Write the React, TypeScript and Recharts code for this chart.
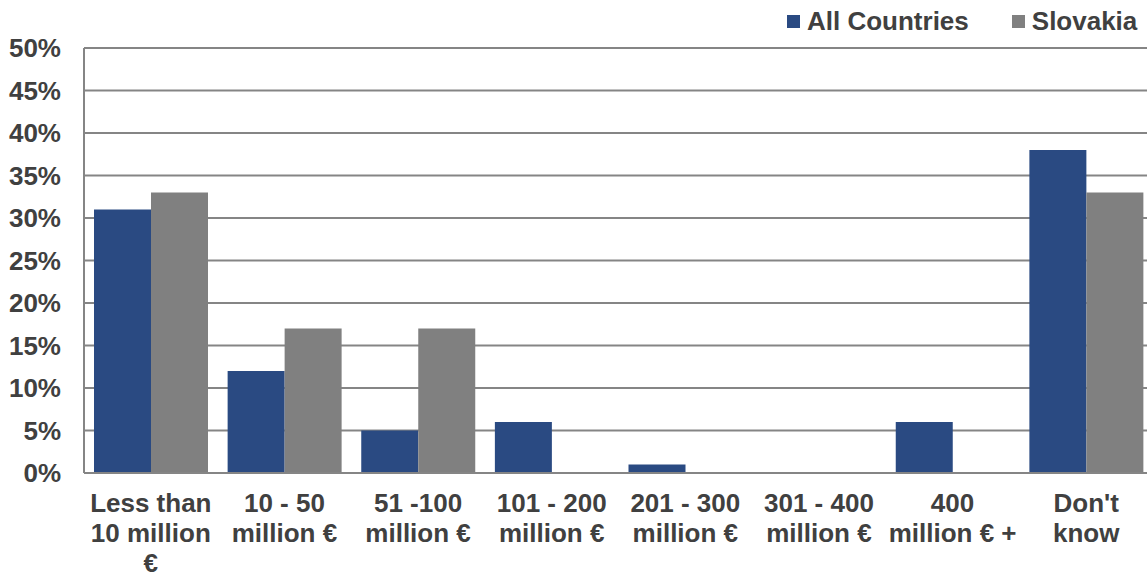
import React from "react";
import { Bar, BarChart, CartesianGrid, Legend, XAxis, YAxis } from "recharts";

const categories = [
  "Less than|10 million|€",
  "10 - 50|million €",
  "51 -100|million €",
  "101 - 200|million €",
  "201 - 300|million €",
  "301 - 400|million €",
  "400|million € +",
  "Don't|know",
];
const allCountries = [31, 12, 5, 6, 1, 0, 6, 38];
const slovakia = [33, 17, 17, 0, 0, 0, 0, 33];
const yTicks = [0, 5, 10, 15, 20, 25, 30, 35, 40, 45, 50];

const BLUE = "#2A4A82";
const GREY = "#808080";
const TEXT = "#404040";
const FONT = "'Liberation Sans', Arial, sans-serif";

const data = categories.map((name, i) => ({
  name,
  all: allCountries[i],
  sk: slovakia[i],
}));

function CategoryTick(props: any) {
  const { x, y, payload } = props;
  const lines = String(payload.value).split("|");
  return (
    <text
      x={x}
      y={y + 39}
      textAnchor="middle"
      fill={TEXT}
      fontFamily={FONT}
      fontWeight="bold"
      fontSize={26}
    >
      {lines.map((line, i) => (
        <tspan key={i} x={x} dy={i === 0 ? 0 : 30}>
          {line}
        </tspan>
      ))}
    </text>
  );
}

function TopLegend() {
  const items = [
    { label: "All Countries", color: BLUE },
    { label: "Slovakia", color: GREY },
  ];
  return (
    <div style={{ display: "flex", alignItems: "center", lineHeight: "30px" }}>
      {items.map((it, i) => (
        <div key={it.label} style={{ display: "flex", alignItems: "center", marginLeft: i === 0 ? 0 : 43 }}>
          <span style={{ width: 13, height: 13, background: it.color, marginRight: 7, display: "inline-block" }} />
          <span style={{ fontFamily: FONT, fontWeight: "bold", fontSize: 26, color: TEXT, whiteSpace: "nowrap" }}>
            {it.label}
          </span>
        </div>
      ))}
    </div>
  );
}

export default function App() {
  return (
    <div
      style={{
        position: "absolute",
        left: 0,
        top: 0,
        width: 1147,
        height: 579,
        overflow: "hidden",
        background: "#fff",
      }}
    >
      <BarChart
        width={1160}
        height={579}
        data={data}
        margin={{ top: 48, right: 7, bottom: 0, left: 0 }}
        barCategoryGap={10}
        barGap={0}
      >
        <CartesianGrid vertical={false} stroke="#858585" strokeWidth={1.8} />
        <XAxis
          dataKey="name"
          height={106}
          interval={0}
          tickLine={false}
          tickSize={0}
          tickMargin={0}
          axisLine={{ stroke: "#858585", strokeWidth: 2 }}
          tick={<CategoryTick />}
        />
        <YAxis
          width={84}
          domain={[0, 50]}
          ticks={yTicks}
          interval={0}
          tickLine={false}
          tickSize={0}
          tickMargin={23}
          axisLine={{ stroke: "#858585", strokeWidth: 2 }}
          tickFormatter={(v: number) => `${v}%`}
          tick={{ fill: TEXT, fontFamily: FONT, fontWeight: "bold", fontSize: 26 }}
        />
        <Legend
          layout="vertical"
          align="center"
          verticalAlign="middle"
          wrapperStyle={{ position: "absolute", left: 787, top: 6, width: 370 }}
          content={<TopLegend />}
        />
        <Bar dataKey="all" name="All Countries" fill={BLUE} isAnimationActive={false} />
        <Bar dataKey="sk" name="Slovakia" fill={GREY} isAnimationActive={false} />
      </BarChart>
    </div>
  );
}
